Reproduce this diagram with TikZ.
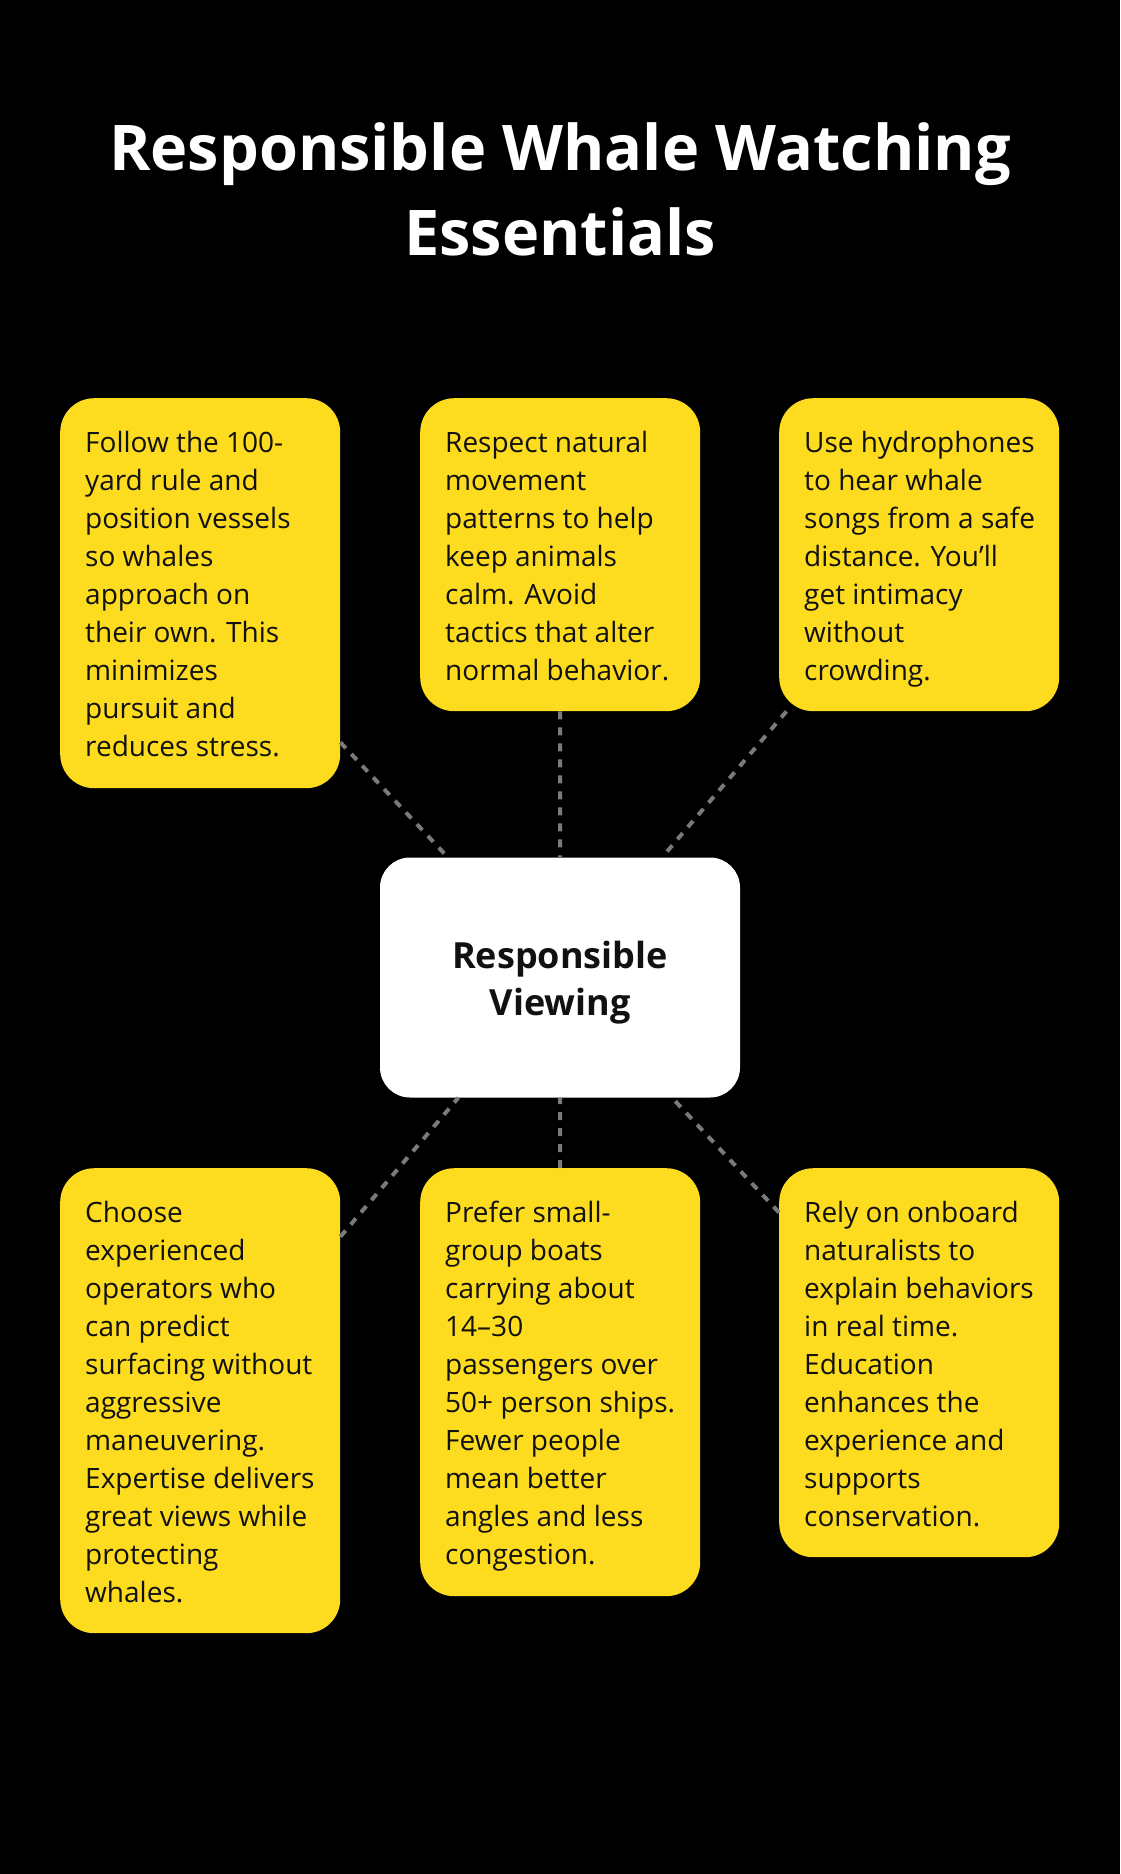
\documentclass[tikz,border=0pt]{standalone}
\usepackage{fontspec}
\setmainfont{Open Sans}

\definecolor{cardyellow}{HTML}{FDDB1F}
\definecolor{linkgray}{HTML}{7A7A7A}
\definecolor{inkblack}{HTML}{111111}

\begin{document}
\begin{tikzpicture}[
		x=1pt, y=-1pt,
		title/.style={anchor=base, align=center, inner sep=0pt, text=white, font=\bfseries\fontsize{63}{85}\selectfont},
		card/.style={rectangle, rounded corners=34pt, fill=cardyellow, minimum width=280pt, inner sep=0pt, anchor=north west},
		card text/.style={anchor=north west, align=left, inner sep=0pt, text=inkblack, font=\fontsize{28}{38}\selectfont, execute at begin node=\strut},
		hub/.style={rectangle, rounded corners=30pt, fill=white, minimum width=360pt, minimum height=240pt, inner sep=0pt},
		hub text/.style={align=center, inner sep=0pt, text=inkblack, font=\bfseries\fontsize{36}{47}\selectfont},
		link/.style={linkgray, line width=4pt, dash pattern=on 8pt off 8pt}
		]
		
		% background and page size
		\fill[black] (0,0) rectangle (1120,1874);
		\useasboundingbox (0,0) rectangle (1120,1874);
		
		\node[title] (heading) at (560,255) {Responsible Whale Watching\\Essentials};
		
		% ---------------------------------------------------------
		% Top row
		% ---------------------------------------------------------
		\node[card, minimum height=390pt] (yardrule) at (60,398) {};
		\node[card text] at ([xshift=25pt,yshift=-33pt]yardrule.north west)
		{Follow the 100-\\yard rule and\\position vessels\\so whales\\approach on\\their own. This\\minimizes\\pursuit and\\reduces stress.};
		
		\node[card, minimum height=313pt] (movement) at (420,398) {};
		\node[card text] at ([xshift=25pt,yshift=-33pt]movement.north west)
		{Respect natural\\movement\\patterns to help\\keep animals\\calm. Avoid\\tactics that alter\\normal behavior.};
		
		\node[card, minimum height=313pt] (hydro) at (779,398) {};
		\node[card text] at ([xshift=25pt,yshift=-33pt]hydro.north west)
		{Use hydrophones\\to hear whale\\songs from a safe\\distance. You’ll\\get intimacy\\without\\crowding.};
		
		% ---------------------------------------------------------
		% Centre
		% ---------------------------------------------------------
		\node[hub] (viewing) at (560,977.5) {};
		\node[hub text] at ([yshift=-5pt]viewing.center) {Responsible\\Viewing};
		
		% ---------------------------------------------------------
		% Bottom row
		% ---------------------------------------------------------
		\node[card, minimum height=465pt] (operators) at (60,1168) {};
		\node[card text] at ([xshift=25pt,yshift=-33pt]operators.north west)
		{Choose\\experienced\\operators who\\can predict\\surfacing without\\aggressive\\maneuvering.\\Expertise delivers\\great views while\\protecting\\whales.};
		
		\node[card, minimum height=428pt] (smallboats) at (420,1168) {};
		\node[card text] at ([xshift=25pt,yshift=-33pt]smallboats.north west)
		{Prefer small-\\group boats\\carrying about\\14–30\\passengers over\\50+ person ships.\\Fewer people\\mean better\\angles and less\\congestion.};
		
		\node[card, minimum height=389pt] (naturalists) at (779,1168) {};
		\node[card text] at ([xshift=25pt,yshift=-33pt]naturalists.north west)
		{Rely on onboard\\naturalists to\\explain behaviors\\in real time.\\Education\\enhances the\\experience and\\supports\\conservation.};
		
		% dashed links to the centre
		\foreach \card in {yardrule, movement, hydro, operators, smallboats, naturalists} {
			\draw[link] (\card) -- (viewing);
		}
		
	\end{tikzpicture}
\end{document}
